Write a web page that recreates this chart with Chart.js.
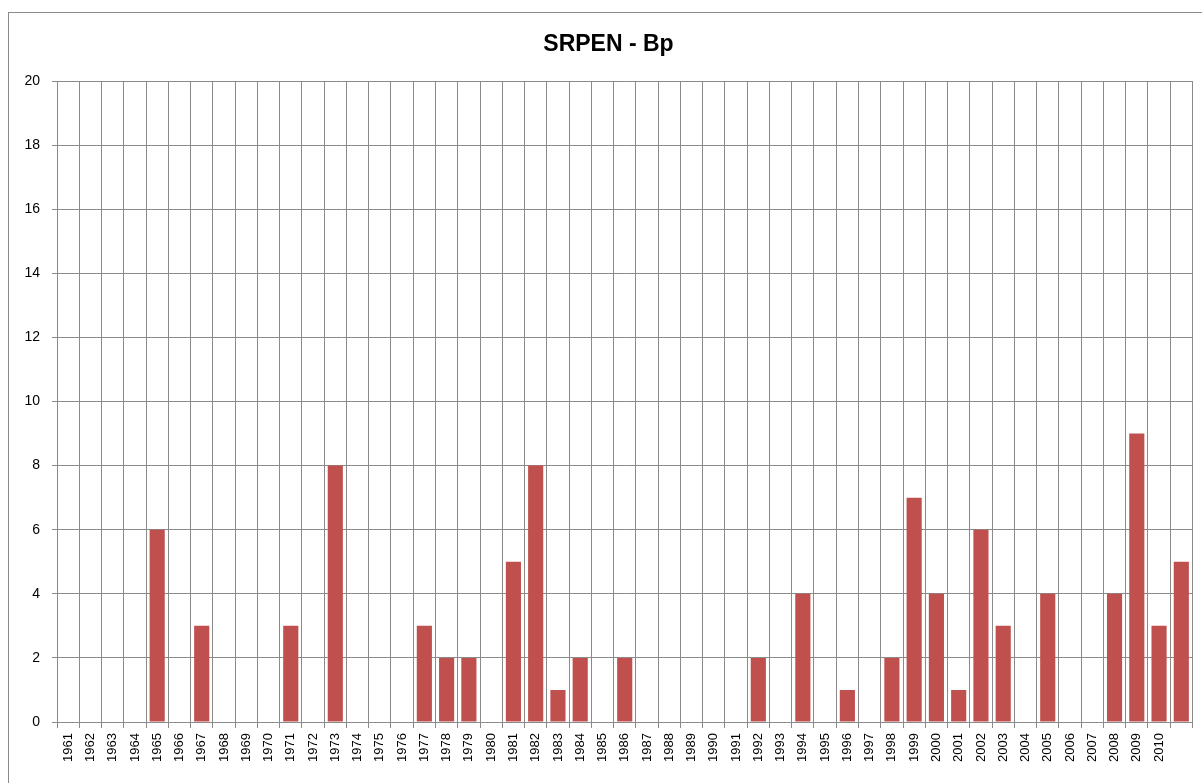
<!DOCTYPE html>
<html>
<head>
<meta charset="utf-8">
<script src="https://cdn.jsdelivr.net/npm/chart.js@4/dist/chart.umd.min.js"></script>
<style>
  html, body { margin: 0; padding: 0; background: #fff; }
  #wrap { position: relative; width: 1202px; height: 783px; overflow: hidden; }
  #frame { position: absolute; left: 8px; top: 12px; width: 1300px; height: 900px;
           border-left: 1px solid #8a8a8a; border-top: 1px solid #8a8a8a; }
  #title { position: absolute; left: 0; top: 32px; width: 1217px; text-align: center;
           font: bold 23px/23px 'Liberation Sans', Arial, sans-serif; color: #000; }
  canvas { position: absolute; left: 0; top: 0; }
</style>
</head>
<body>
<div id="wrap">
  <div id="frame"></div>
  <canvas id="srpenChart" width="1202" height="783"></canvas>
  <div id="title">SRPEN - Bp</div>
</div>
<script>
// Years on the axis (last bar has no label in the original)
const years = [
  "1961","1962","1963","1964","1965","1966","1967","1968","1969","1970",
  "1971","1972","1973","1974","1975","1976","1977","1978","1979","1980",
  "1981","1982","1983","1984","1985","1986","1987","1988","1989","1990",
  "1991","1992","1993","1994","1995","1996","1997","1998","1999","2000",
  "2001","2002","2003","2004","2005","2006","2007","2008","2009","2010",
  ""
];

// Bp counts per year
const bpValues = [
  0, 0, 0, 0, 6, 0, 3, 0, 0, 0,
  3, 0, 8, 0, 0, 0, 3, 2, 2, 0,
  5, 8, 1, 2, 0, 2, 0, 0, 0, 0,
  0, 2, 0, 4, 0, 1, 0, 2, 7, 4,
  1, 6, 3, 0, 4, 0, 0, 4, 9, 3,
  5
];

const yMin = 0, yMax = 20, yStep = 2;

const gridColor = "#8a8a8a";
const barColor = "#c0504d";
const fontFamily = "'Liberation Sans', Arial, sans-serif";

const ctx = document.getElementById("srpenChart").getContext("2d");
const chart = new Chart(ctx, {
  type: "bar",
  data: {
    labels: years,
    datasets: [
      { label: "Bp", data: bpValues, backgroundColor: barColor, borderWidth: 0,
        barPercentage: 0.68, categoryPercentage: 1.0 }
    ]
  },
  options: {
    responsive: false,
    animation: false,
    layout: { padding: { left: 0, right: 8, top: 81, bottom: 0 } },
    plugins: {
      legend: { display: false },
      tooltip: { enabled: false },
      title: { display: false }
    },
    scales: {
      x: {
        offset: true,
        grid: { offset: true, color: gridColor, lineWidth: 1, drawTicks: true, tickLength: 6, tickColor: gridColor },
        border: { display: true, color: gridColor },
        ticks: {
          color: "#000",
          autoSkip: false,
          minRotation: 90,
          maxRotation: 90,
          padding: 5,
          font: { family: fontFamily, size: 13 }
        },
        afterFit: scale => { scale.height = 61; }
      },
      y: {
        min: yMin,
        max: yMax,
        grid: { color: gridColor, lineWidth: 1, drawTicks: true, tickLength: 5, tickColor: gridColor },
        border: { display: true, color: gridColor },
        ticks: {
          stepSize: yStep,
          color: "#000",
          padding: 12,
          font: { family: fontFamily, size: 14 }
        },
        afterFit: scale => { scale.width = 57; }
      }
    }
  }
});
</script>
</body>
</html>
